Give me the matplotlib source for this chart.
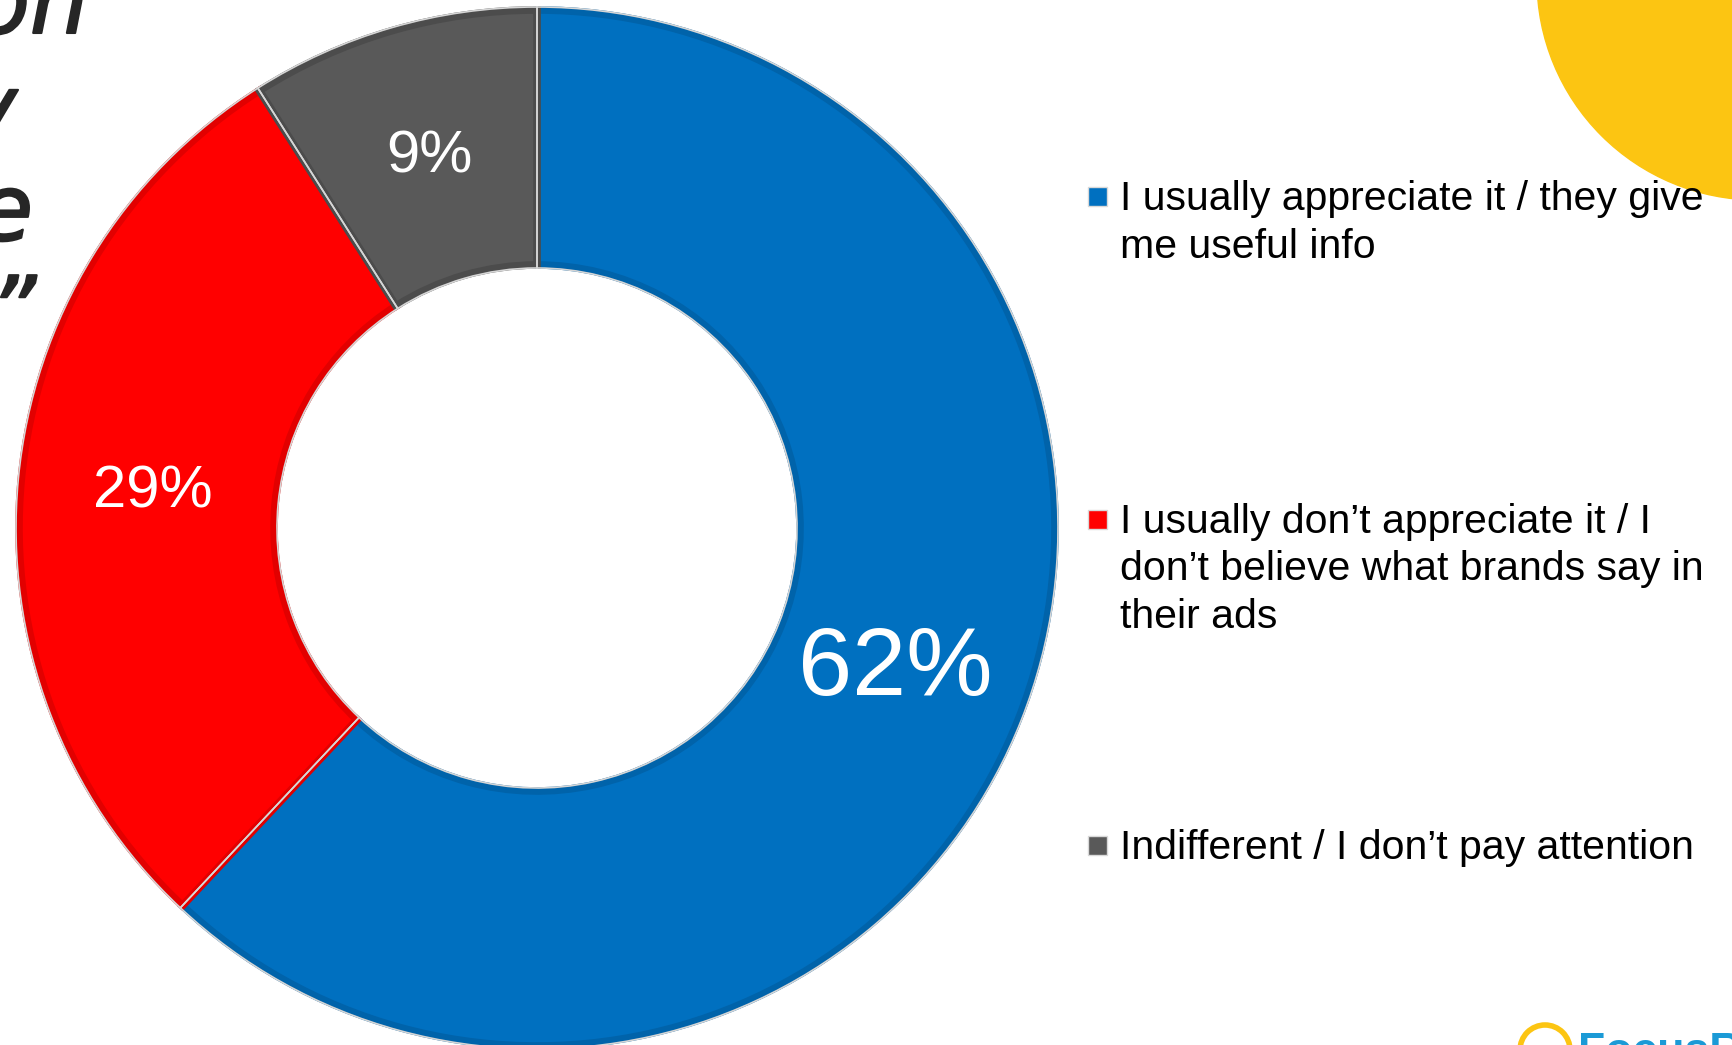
import matplotlib.pyplot as plt
import matplotlib.patheffects as pe
from matplotlib.patches import Rectangle, Circle

# data
labels = [
    "I usually appreciate it / they give\nme useful info",
    "I usually don\u2019t appreciate it / I\ndon\u2019t believe what brands say in\ntheir ads",
    "Indifferent / I don\u2019t pay attention",
]
values = [62, 29, 9]
colors = ["#0070C0", "#FF0000", "#595959"]
edge_colors = ["#0063AA", "#E20000", "#4C4C4C"]
pct_sizes = [70, 43, 43]

# cut-off title fragments on the left of the slide
title_bits = ["on", "y", "e", "o\u201d"]

W, H = 1732, 1045
LINE = 47.5  # legend line pitch in px


def main():
    fig = plt.figure(figsize=(W / 100, H / 100), dpi=100)
    ax = fig.add_axes([0, 0, 1, 1])

    # yellow decoration top-right
    ax.add_patch(Circle((1757, H + 20), 220, color="#FCC512", zorder=0))

    cx, cy, R = 537, H - 528, 518
    wedges, _, autotexts = ax.pie(
        values,
        colors=colors,
        startangle=90,
        counterclock=False,
        radius=R,
        center=(cx, cy),
        autopct=lambda p: f"{p:.0f}%",
        pctdistance=0.745,
        wedgeprops=dict(width=R - 263, linewidth=5.5),
        textprops=dict(color="white", family=["Liberation Sans", "DejaVu Sans"]),
        frame=True,
    )
    for w, ec in zip(wedges, edge_colors):
        w.set_edgecolor(ec)
    for t, s in zip(autotexts, pct_sizes):
        t.set_fontsize(s)

    # thin light separators
    ax.pie(
        values,
        colors=["none"] * 3,
        startangle=90,
        counterclock=False,
        radius=R + 3,
        center=(cx, cy),
        wedgeprops=dict(width=R - 257, linewidth=1.2, edgecolor="#d6d6d6", fill=False),
        frame=True,
    )

    # legend drawn by hand, one text per line
    first_baselines = [210, 533, 859]
    for lab, col, yb in zip(labels, colors, first_baselines):
        ax.add_patch(Rectangle((1088, H - yb + 4), 19, 19, facecolor=col,
                               edgecolor="#d9d9d9", linewidth=1.0))
        for k, line in enumerate(lab.split("\n")):
            ax.text(1120, H - (yb + k * LINE), line, fontsize=29.5,
                    va="baseline", ha="left", color="black",
                    family=["Liberation Sans Narrow", "Liberation Sans", "DejaVu Sans"])

    # left title fragments (italic)
    for txt, xr, yb in zip(title_bits, [88, 17, 33, 36], [33, 140, 240, 342]):
        ax.text(xr, H - yb, txt, fontsize=66, style="italic", ha="right",
                va="baseline", color="#262626", family="DejaVu Sans",
                path_effects=[pe.withStroke(linewidth=1.5, foreground="#262626")])

    # logo bottom-right, cut by the edge
    ax.add_patch(Circle((1545, H - 1050), 25, facecolor="none",
                        edgecolor="#FCC512", linewidth=4))
    ax.text(1578, H - 1064, "FocusR", fontsize=32, fontweight="bold",
            color="#1B9AD6", va="baseline", ha="left",
            family=["Liberation Sans", "DejaVu Sans"])

    ax.set_xlim(0, W)
    ax.set_ylim(0, H)
    ax.set_aspect("equal")
    ax.axis("off")
    fig.savefig("out.png", dpi=100)


if __name__ == "__main__":
    main()
